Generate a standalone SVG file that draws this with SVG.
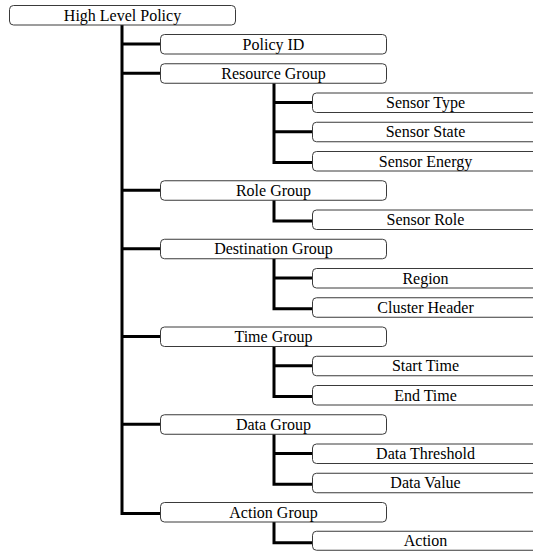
<svg xmlns="http://www.w3.org/2000/svg" width="533" height="551" viewBox="0 0 533 551">
<style>
.box{fill:#fff;stroke:#3a3a3a;stroke-width:1}
.c{fill:none;stroke:#000;stroke-width:3;stroke-linejoin:miter;stroke-linecap:butt}
</style>
<rect width="533" height="551" fill="#fff"/>
<g id="connectors">
<path class="c" d="M122 25 V513.5 H160"/>
<path class="c" d="M122 44 H160 M122 73.25 H160 M122 190.25 H160 M122 248.75 H160 M122 336.5 H160 M122 424.25 H160"/>
<path class="c" d="M274 83 V162.5 H312 M274 102.5 H312 M274 131.75 H312"/>
<path class="c" d="M274 200 V221 H312"/>
<path class="c" d="M274 258.5 V308.75 H312 M274 278 H312"/>
<path class="c" d="M274 346.25 V396.5 H312 M274 365.75 H312"/>
<path class="c" d="M274 434 V484.25 H312 M274 453.5 H312"/>
<path class="c" d="M274 521.5 V542.75 H312"/>
</g>
<g font-family="Liberation Serif" font-size="16" text-anchor="middle" fill="#000">
<g id="n-high"><rect class="box" x="9.5" y="5.5" width="226" height="19.5" rx="4"/><text x="122.5" y="20.5">High Level Policy</text></g>
<g id="n-policyid"><rect class="box" x="160.5" y="34.5" width="226" height="19.5" rx="4"/><text x="273.5" y="49.5">Policy ID</text></g>
<g id="n-resource"><rect class="box" x="160.5" y="63.75" width="226" height="19.5" rx="4"/><text x="273.5" y="78.75">Resource Group</text></g>
<g id="n-stype"><rect class="box" x="312.5" y="93" width="226" height="19.5" rx="4"/><text x="425.5" y="108">Sensor Type</text></g>
<g id="n-sstate"><rect class="box" x="312.5" y="122.25" width="226" height="19.5" rx="4"/><text x="425.5" y="137.25">Sensor State</text></g>
<g id="n-senergy"><rect class="box" x="312.5" y="151.5" width="226" height="19.5" rx="4"/><text x="425.5" y="166.5">Sensor Energy</text></g>
<g id="n-role"><rect class="box" x="160.5" y="180.75" width="226" height="19.5" rx="4"/><text x="273.5" y="195.75">Role Group</text></g>
<g id="n-srole"><rect class="box" x="312.5" y="210" width="226" height="19.5" rx="4"/><text x="425.5" y="225">Sensor Role</text></g>
<g id="n-dest"><rect class="box" x="160.5" y="239.25" width="226" height="19.5" rx="4"/><text x="273.5" y="254.25">Destination Group</text></g>
<g id="n-region"><rect class="box" x="312.5" y="268.5" width="226" height="19.5" rx="4"/><text x="425.5" y="283.5">Region</text></g>
<g id="n-cluster"><rect class="box" x="312.5" y="297.75" width="226" height="19.5" rx="4"/><text x="425.5" y="312.75">Cluster Header</text></g>
<g id="n-time"><rect class="box" x="160.5" y="327" width="226" height="19.5" rx="4"/><text x="273.5" y="342">Time Group</text></g>
<g id="n-start"><rect class="box" x="312.5" y="356.25" width="226" height="19.5" rx="4"/><text x="425.5" y="371.25">Start Time</text></g>
<g id="n-end"><rect class="box" x="312.5" y="385.5" width="226" height="19.5" rx="4"/><text x="425.5" y="400.5">End Time</text></g>
<g id="n-data"><rect class="box" x="160.5" y="414.75" width="226" height="19.5" rx="4"/><text x="273.5" y="429.75">Data Group</text></g>
<g id="n-dthresh"><rect class="box" x="312.5" y="444" width="226" height="19.5" rx="4"/><text x="425.5" y="459">Data Threshold</text></g>
<g id="n-dvalue"><rect class="box" x="312.5" y="473.25" width="226" height="19.5" rx="4"/><text x="425.5" y="488.25">Data Value</text></g>
<g id="n-actiongroup"><rect class="box" x="160.5" y="502.5" width="226" height="19.5" rx="4"/><text x="273.5" y="517.5">Action Group</text></g>
<g id="n-action"><rect class="box" x="312.5" y="531.25" width="226" height="19" rx="4"/><text x="425.5" y="546.25">Action</text></g>
</g>
</svg>
